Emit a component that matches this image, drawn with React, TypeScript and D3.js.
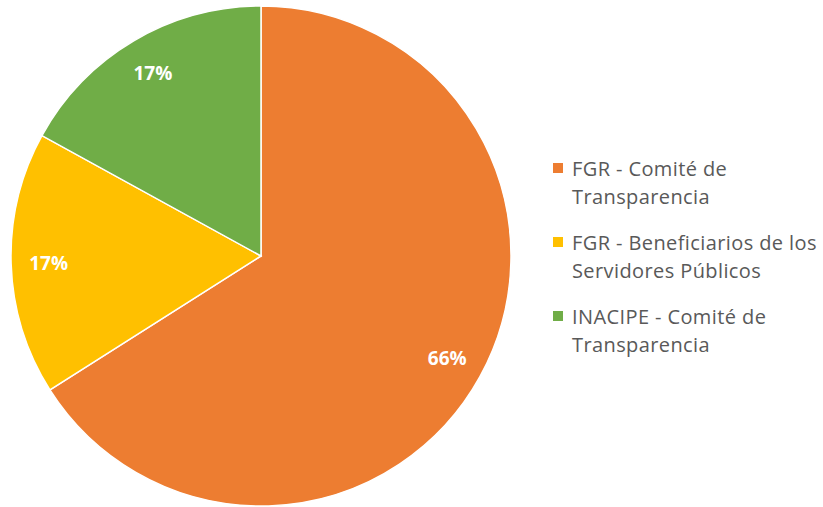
import * as d3 from "d3";

const categories = [
  "FGR - Comité de Transparencia",
  "FGR - Beneficiarios de los Servidores Públicos",
  "INACIPE - Comité de Transparencia",
];
const legendLines = [
  ["FGR - Comité de", "Transparencia"],
  ["FGR - Beneficiarios de los", "Servidores Públicos"],
  ["INACIPE - Comité de", "Transparencia"],
];
const values = [66, 17, 17];
const colors = ["#ED7D31", "#FFC000", "#70AD47"];

const W = 823;
const H = 507;
const cx = 261;
const cy = 256;
const r = 250;

const App = () => {
  const pie = d3.pie<number>().sort(null).value((d) => d);
  const arcs = pie(values);
  const arc = d3.arc<d3.PieArcDatum<number>>().innerRadius(0).outerRadius(r);
  const labelArc = d3
    .arc<d3.PieArcDatum<number>>()
    .innerRadius(r * 0.85)
    .outerRadius(r * 0.85);
  const total = d3.sum(values);

  return (
    <svg
      width={W}
      height={H}
      style={{ position: "absolute", left: 0, top: 0 }}
      fontFamily="'Open Sans', 'Liberation Sans', sans-serif"
    >
      <rect width={W} height={H} fill="#fff" />
      <g transform={`translate(${cx},${cy})`}>
        {arcs.map((a, i) => (
          <path key={i} d={arc(a) ?? ""} fill={colors[i]} stroke="#fff" strokeWidth={1.5} />
        ))}
        {arcs.map((a, i) => {
          const [x, y] = labelArc.centroid(a);
          return (
            <text
              key={i}
              x={x}
              y={y}
              textAnchor="middle"
              dominantBaseline="central"
              fill="#fff"
              fontWeight="bold"
              fontSize={19}
            >
              {Math.round((values[i] / total) * 100)}%
            </text>
          );
        })}
      </g>
      <g>
        {categories.map((c, i) => {
          const y0 = 168 + i * 74;
          return (
            <g key={c}>
              <rect x={553} y={y0 - 5} width={10} height={10} fill={colors[i]} />
              {legendLines[i].map((line, j) => (
                <text
                  key={j}
                  x={572}
                  y={y0 + j * 28}
                  dominantBaseline="central"
                  fill="#595959"
                  fontSize={20}
                  letterSpacing={0.4}
                >
                  {line}
                </text>
              ))}
            </g>
          );
        })}
      </g>
    </svg>
  );
};

export default App;
